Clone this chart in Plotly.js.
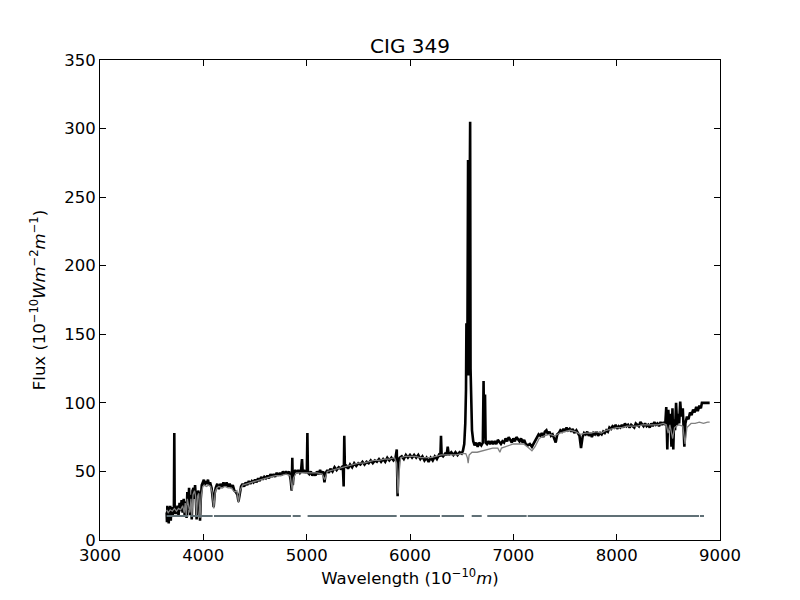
<!DOCTYPE html>
<html>
<head>
<meta charset="utf-8">
<script src="https://cdn.plot.ly/plotly-3.0.1.min.js"></script>
<style>html,body{margin:0;padding:0;background:#fff;}#chart{width:800px;height:600px;}</style>
</head>
<body>
<div id="chart"></div>
<script>
// Observed spectrum (black)
var obsWave = [3645,3648,3652,3656,3660,3665,3670,3675,3680,3685,3690,3695,3700,3705,3710,3715,3719,3723,3730,3740,3750,3760,3770,3780,3790,3800,3810,3820,3830,3838,3845,3855,3862,3870,3878,3888,3895,3905,3912,3920,3928,3935,3942,3950,3960,3968,3975,3985,3995,4005,4015,4025,4035,4045,4055,4065,4080,4090,4100,4110,4120,4135,4150,4165,4180,4195,4210,4225,4240,4255,4270,4285,4300,4315,4330,4340,4350,4365,4380,4395,4410,4425,4440,4455,4470,4485,4500,4515,4530,4545,4560,4575,4590,4605,4620,4635,4650,4665,4680,4695,4710,4725,4740,4755,4770,4785,4800,4815,4830,4845,4855,4861,4866,4875,4890,4905,4920,4935,4945,4955,4962,4975,4990,5002,5007,5012,5025,5040,5055,5070,5085,5100,5115,5130,5145,5160,5172,5185,5200,5215,5230,5250,5270,5290,5310,5330,5350,5358,5364,5370,5385,5400,5420,5440,5460,5480,5500,5520,5540,5560,5580,5600,5620,5640,5660,5680,5700,5720,5740,5760,5780,5800,5820,5840,5860,5872,5880,5888,5900,5920,5940,5960,5980,6000,6020,6040,6060,6080,6100,6120,6140,6160,6180,6200,6220,6240,6260,6280,6294,6300,6306,6320,6340,6355,6365,6375,6400,6420,6440,6460,6480,6500,6512,6525,6535,6542,6546,6550,6556,6562,6567,6572,6582,6586,6594,6600,6612,6625,6640,6655,6670,6690,6705,6712,6718,6726,6732,6745,6760,6775,6790,6805,6820,6835,6850,6865,6880,6895,6910,6925,6940,6955,6970,6985,7000,7015,7030,7045,7060,7075,7090,7105,7120,7140,7160,7180,7200,7215,7230,7245,7260,7275,7290,7305,7320,7335,7350,7365,7380,7395,7410,7425,7440,7455,7470,7485,7500,7515,7530,7545,7560,7575,7590,7610,7625,7640,7655,7670,7685,7700,7715,7730,7745,7760,7775,7790,7805,7820,7840,7855,7870,7885,7900,7915,7930,7945,7960,7975,7990,8005,8020,8035,8050,8065,8080,8095,8110,8125,8140,8155,8170,8185,8200,8215,8230,8245,8260,8275,8290,8305,8320,8335,8350,8365,8380,8395,8410,8425,8440,8455,8470,8480,8490,8500,8510,8520,8530,8540,8548,8556,8565,8575,8585,8595,8605,8615,8625,8640,8655,8665,8680,8695,8710,8725,8740,8755,8770,8785,8800,8815,8825,8840,8900];
var obsFlux = [20,13,25,14,24,12,22,16,25,14,23,17,24,18,23,20,78,19,24,19,25,18,27,21,29,20,30,17,28,16,35,22,38,18,33,15,36,38,30,40,30,15,30,36,33,14,30,40,42,44,40,43,41,44,40,42,38,30,24,34,38,41,37,41,38,42,39,42,39,41,38,40,36,35,33,28,34,39,41,39,42,40,43,41,43,42,44,42,45,43,46,44,46,45,47,45,48,46,48,46,49,47,49,47,50,48,50,48,50,44,36,60,40,49,51,49,51,49,50,59,49,51,49,51,78,49,48,50,47,49,47,50,48,51,48,50,42,49,51,49,52,50,53,51,53,52,54,39,76,53,54,52,55,53,56,54,56,55,57,55,57,56,58,56,58,57,59,57,59,57,60,58,60,58,60,66,32,57,60,61,59,62,60,62,60,62,60,62,59,61,58,60,57,60,58,61,59,62,61,76,62,61,63,62,68,62,64,62,64,62,64,63,65,70,85,110,158,140,150,277,120,230,305,125,100,80,72,69,71,68,71,69,71,116,74,106,71,70,72,70,72,70,72,70,73,71,70,72,71,74,72,75,73,71,74,72,75,73,72,74,71,73,70,69,70,68,71,73,75,77,76,78,75,79,80,77,79,76,77,74,71,77,78,80,79,81,79,82,80,81,79,81,78,80,78,76,67,75,78,77,79,76,78,75,78,77,79,76,78,77,79,78,80,79,82,81,83,82,84,81,83,82,84,82,85,83,84,82,84,83,82,85,84,83,86,84,83,85,83,84,82,85,83,86,84,85,83,86,84,86,84,97,66,95,80,92,68,96,66,88,80,100,84,92,85,101,90,96,68,85,90,88,93,91,95,93,97,94,98,96,100,100,100];

// Model spectrum (grey)
var modelWave = [3645,3660,3680,3700,3720,3740,3760,3780,3800,3815,3825,3835,3845,3860,3870,3880,3889,3900,3915,3925,3934,3945,3955,3968,3980,3995,4010,4030,4050,4070,4085,4101,4115,4130,4150,4180,4210,4240,4270,4290,4305,4325,4340,4355,4380,4420,4460,4500,4550,4600,4650,4700,4750,4800,4840,4850,4861,4872,4900,4950,5000,5050,5100,5150,5175,5200,5250,5300,5350,5400,5450,5500,5550,5600,5650,5700,5750,5800,5850,5870,5885,5895,5910,5950,6000,6050,6100,6150,6200,6250,6300,6350,6400,6450,6500,6540,6555,6563,6572,6600,6650,6700,6750,6800,6850,6870,6885,6950,7000,7050,7100,7150,7180,7210,7250,7300,7350,7400,7450,7500,7550,7600,7650,7700,7750,7800,7850,7900,7950,8000,8050,8100,8150,8200,8250,8300,8350,8400,8450,8480,8498,8515,8542,8560,8600,8640,8662,8680,8720,8760,8800,8840,8880,8900];
var modelFlux = [22,20,22,21,23,21,23,22,25,20,27,18,30,24,20,30,17,33,36,32,18,32,34,16,33,39,40,39,40,39,35,23,35,38,39,38,39,38,38,36,35,36,27,36,40,41,42,43,44,45,46,47,47,48,47,43,36,45,49,49,49,49,49,48,44,50,51,52,53,54,55,56,56,57,58,58,59,59,60,56,34,50,60,61,61,61,60,60,60,61,62,62,62,62,63,63,60,56,62,64,64,65,66,67,67,64,67,69,70,70,70,67,65,68,74,76,77,76,78,79,80,79,77,78,78,79,78,80,81,82,82,83,83,83,84,84,84,84,85,84,78,84,74,82,84,83,70,82,85,85,86,85,86,86];

// Masked-region indicator line
var maskStart = [3645,3871,4103,4865,5009,5903,6306,6597,6748,7139,8806];
var maskEnd   = [3855,4090,4848,4942,5871,6290,6523,6694,7129,8797,8845];
var maskLevel = 17.5;

var tickX = [3000,4000,5000,6000,7000,8000,9000];
var tickY = [0,50,100,150,200,250,300,350];

var mx = [], my = [];
for (var i = 0; i < maskStart.length; i++) {
  mx.push(maskStart[i], maskEnd[i], null);
  my.push(maskLevel, maskLevel, null);
}

var font = 'DejaVu Sans, sans-serif';
var traces = [
  {x: obsWave, y: obsFlux, type: 'scatter', mode: 'lines', line: {color: '#000000', width: 2.6}, hoverinfo: 'skip'},
  {x: modelWave, y: modelFlux, type: 'scatter', mode: 'lines', line: {color: '#808080', width: 1.3}, hoverinfo: 'skip'},
  {x: mx, y: my, type: 'scatter', mode: 'lines', line: {color: '#607076', width: 2}, connectgaps: false, hoverinfo: 'skip'}
];

var axisCommon = {
  showgrid: false, zeroline: false, showline: true, linecolor: '#000', linewidth: 1,
  mirror: 'ticks', ticks: 'inside', ticklen: 6, tickwidth: 1, tickcolor: '#000',
  tickfont: {family: font, size: 16.5, color: '#000'}, automargin: false
};

var layout = {
  width: 800, height: 600,
  margin: {l: 100, r: 80, t: 60, b: 60, pad: 0},
  paper_bgcolor: '#fff', plot_bgcolor: '#fff',
  showlegend: false,
  font: {family: font, color: '#000'},
  title: {text: 'CIG 349', font: {family: font, size: 20, color: '#000'}, x: 0.5, xref: 'paper', y: 0.923, yref: 'container', yanchor: 'middle'},
  xaxis: Object.assign({}, axisCommon, {
    range: [3000, 9000], tickvals: tickX, ticktext: tickX.map(String),
    title: {text: 'Wavelength (10<sup>\u221210</sup><i>m</i>)', font: {family: font, size: 16.5, color: '#000'}, standoff: 8}
  }),
  yaxis: Object.assign({}, axisCommon, {
    range: [0, 350], tickvals: tickY, ticktext: tickY.map(String),
    title: {text: 'Flux (10<sup>\u221210</sup><i>Wm</i><sup>\u22122</sup><i>m</i><sup>\u22121</sup>)', font: {family: font, size: 16.5, color: '#000'}, standoff: 14}
  })
};

Plotly.newPlot('chart', traces, layout, {staticPlot: true, displayModeBar: false});
</script>
</body>
</html>
